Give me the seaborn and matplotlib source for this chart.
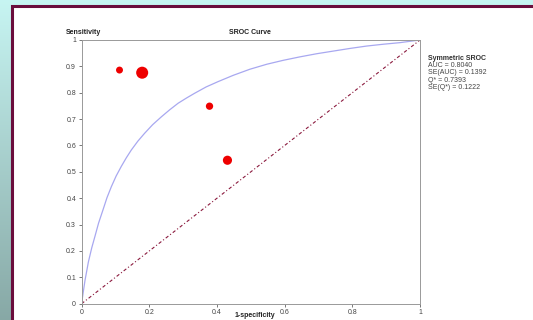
import numpy as np
import pandas as pd
import matplotlib.pyplot as plt
from matplotlib.patches import Rectangle
import seaborn as sns

# Study points (1-specificity, sensitivity) and study weight (marker size)
study_fpr = [0.112, 0.179, 0.378, 0.431]
study_tpr = [0.886, 0.876, 0.749, 0.544]
study_weight = [20, 58, 22, 34]

# Symmetric SROC curve
curve_fpr = [0.0, 0.005, 0.010, 0.020, 0.030, 0.040, 0.050, 0.063, 0.075, 0.088,
             0.102, 0.117, 0.132, 0.147, 0.166, 0.186, 0.210, 0.236, 0.260, 0.285,
             0.310, 0.334, 0.368, 0.403, 0.448, 0.497, 0.547, 0.596, 0.645, 0.695,
             0.744, 0.793, 0.842, 0.892, 0.941, 0.970, 1.0]
curve_tpr = [0.0, 0.045, 0.088, 0.158, 0.212, 0.258, 0.305, 0.355, 0.402, 0.444,
             0.484, 0.520, 0.553, 0.583, 0.616, 0.646, 0.679, 0.709, 0.735, 0.760,
             0.780, 0.798, 0.822, 0.842, 0.866, 0.889, 0.908, 0.923, 0.936, 0.948,
             0.958, 0.968, 0.977, 0.984, 0.990, 0.995, 1.0]

diag = [0.0, 1.0]

y_ticks = [0, 0.1, 0.2, 0.3, 0.4, 0.5, 0.6, 0.7, 0.8, 0.9, 1]
y_labels = ["0", "0.1", "0.2", "0.3", "0.4", "0.5", "0.6", "0.7", "0.8", "0.9", "1"]
x_ticks = [0, 0.2, 0.4, 0.6, 0.8, 1]
x_labels = ["0", "0.2", "0.4", "0.6", "0.8", "1"]

stats_title = "Symmetric SROC"
stats_lines = ["AUC = 0.8040", "SE(AUC) = 0.1392", "Q* = 0.7393", "SE(Q*) = 0.1222"]

sns.set_theme(style="white")
plt.rcParams["font.family"] = ["Liberation Sans", "DejaVu Sans"]

W, H = 533, 320
fig = plt.figure(figsize=(W / 100, H / 100), dpi=100)

# slide background gradient
bg = fig.add_axes([0, 0, 1, 1])
grad = np.linspace(0, 1, 256)[:, None]
top = np.array([0.78, 0.96, 0.95])
bot = np.array([0.53, 0.66, 0.65])
img = top[None, None, :] * (1 - grad[:, :, None]) + bot[None, None, :] * grad[:, :, None]
bg.imshow(img, aspect="auto", extent=[0, W, H, 0])
bg.add_patch(Rectangle((11.5, 5.5), 530, 330, facecolor="white",
                       edgecolor="#6a0d3c", linewidth=2.2))
bg.set_xlim(0, W)
bg.set_ylim(H, 0)
bg.axis("off")

ax = fig.add_axes([81.6 / W, 1 - 303.7 / H, (420 - 81.6) / W, (303.7 - 40) / H])
ax.set_facecolor("none")

sns.lineplot(x=diag, y=diag, ax=ax, color="#8b1a3e", linewidth=0.8,
             linestyle=(0, (3, 2, 1, 2)))
sns.lineplot(x=curve_fpr, y=curve_tpr, ax=ax, color="#a8a8f0", linewidth=0.9,
             sort=False)

pts = pd.DataFrame({"fpr": study_fpr, "tpr": study_tpr, "w": study_weight})
sns.scatterplot(data=pts, x="fpr", y="tpr", size="w", sizes=(25, 75),
                color="#ee0000", edgecolor="none", legend=False, ax=ax)

ax.set_xlim(0, 1)
ax.set_ylim(0, 1)
ax.set_xticks(x_ticks)
ax.set_xticklabels(x_labels)
ax.set_yticks(y_ticks)
ax.set_yticklabels(y_labels)
ax.tick_params(axis="both", labelsize=5, colors="#444444", length=2.5, width=0.5,
               direction="out")
ax.tick_params(axis="x", bottom=True, pad=1)
ax.tick_params(axis="y", left=True, pad=1.5)
for sp in ax.spines.values():
    sp.set_color("#999999")
    sp.set_linewidth(0.7)
ax.set_xlabel("")
ax.set_ylabel("")

fig.text(66 / W, 1 - 32.5 / H, "Sensitivity", fontsize=5, fontweight="bold",
         color="#222222", va="center", ha="left")
fig.text(250 / W, 1 - 32.5 / H, "SROC Curve", fontsize=5, fontweight="bold",
         color="#222222", va="center", ha="center")
fig.text(255 / W, 1 - 315.5 / H, "1-specificity", fontsize=5, fontweight="bold",
         color="#222222", va="center", ha="center")

fig.text(428 / W, 1 - 58.5 / H, stats_title, fontsize=5, fontweight="bold",
         color="#333333", va="center", ha="left")
for i, line in enumerate(stats_lines):
    fig.text(428 / W, 1 - (65.5 + 7.3 * i) / H, line, fontsize=5,
             color="#444444", va="center", ha="left")

fig.savefig("out.png", dpi=100)
